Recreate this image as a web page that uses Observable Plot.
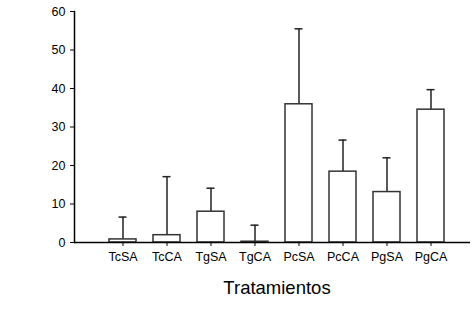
<!DOCTYPE html>
<html>
<head>
<meta charset="utf-8">
<script src="https://cdn.jsdelivr.net/npm/d3@7"></script>
<script src="https://cdn.jsdelivr.net/npm/@observablehq/plot@0.6"></script>
<style>
  html, body { margin: 0; padding: 0; background: #fff; }
  #chart svg { display: block; }
</style>
</head>
<body>
<div id="chart"></div>
<script>
const categories = ["TcSA", "TcCA", "TgSA", "TgCA", "PcSA", "PcCA", "PgSA", "PgCA"];
const means = [0.8, 1.9, 8.0, 0.2, 35.9, 18.4, 13.1, 34.5];
const upperErr = [6.6, 17.1, 14.1, 4.5, 55.5, 26.6, 22.0, 39.7];
const yTicks = [0, 10, 20, 30, 40, 50, 60];
const xLabel = "Tratamientos";

const data = categories.map((c, i) => ({cat: c, mean: means[i], top: upperErr[i]}));

const font = "Liberation Sans, Arial, sans-serif";
const chart = Plot.plot({
  width: 474,
  height: 336,
  marginTop: 11,
  marginBottom: 94,
  marginLeft: 74,
  marginRight: 4,
  style: {fontFamily: font, fontSize: "12.5px", color: "#000", background: "#fff"},
  x: {domain: categories, range: [99, 453], paddingInner: 0.39, paddingOuter: 0.195},
  y: {domain: [0, 60]},
  marks: [
    Plot.ruleX(data, {x: "cat", y1: "mean", y2: "top", stroke: "#222", strokeWidth: 1.5}),
    Plot.tickY(data, {x: "cat", y: "top", stroke: "#222", strokeWidth: 1.5, insetLeft: 9.5, insetRight: 9.5}),
    Plot.barY(data, {x: "cat", y: "mean", fill: "#fff", stroke: "#333", strokeWidth: 1.5}),
    Plot.axisY({ticks: yTicks, tickSize: 4, tickPadding: 5, label: null, stroke: "#000", fontSize: "12.5px"}),
    Plot.axisX({tickSize: 4, tickPadding: 6, label: null, stroke: "#000", fontSize: "12.5px"}),
    Plot.ruleY([0], {stroke: "#000", strokeWidth: 1.5}),
    Plot.frame({anchor: "left", stroke: "#000", strokeWidth: 1.5}),
    Plot.text([xLabel], {frameAnchor: "bottom", dx: 4.5, dy: 46, fontSize: 18.5, lineAnchor: "middle", fill: "#000"})
  ]
});
document.getElementById("chart").appendChild(chart);
</script>
</body>
</html>
